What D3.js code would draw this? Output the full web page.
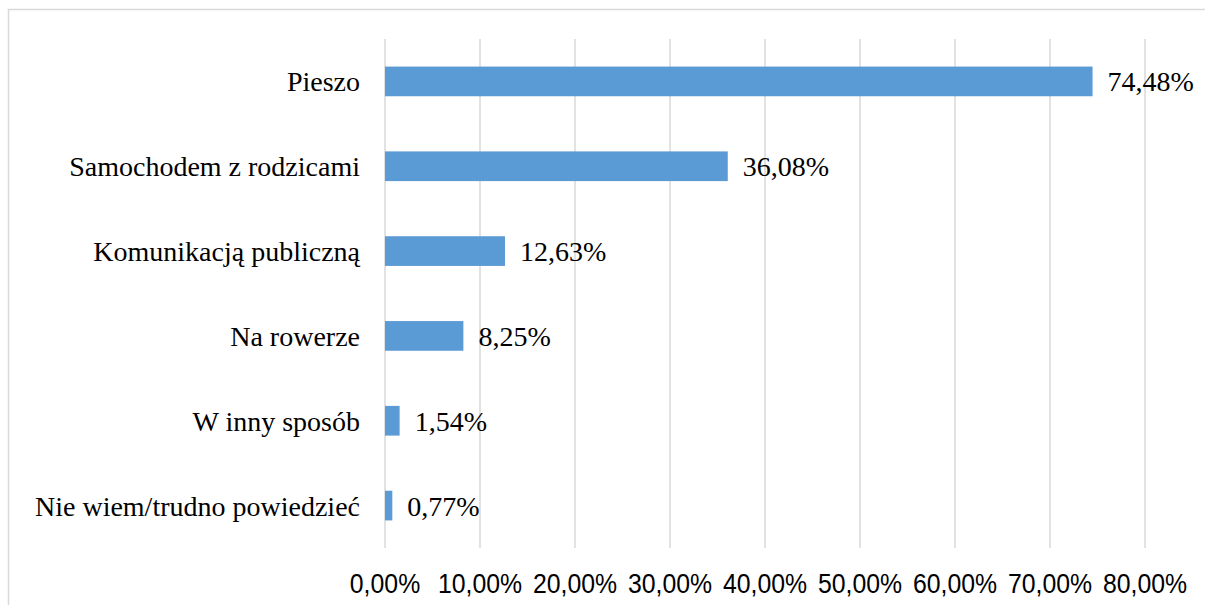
<!DOCTYPE html>
<html><head><meta charset="utf-8">
<script src="https://cdn.jsdelivr.net/npm/d3@7"></script>
<style>
html,body{margin:0;padding:0;background:#fff;overflow:hidden;}
svg{display:block;}
text{fill:#000;}
.serif{font-family:"Liberation Serif","Times New Roman",serif;}
.sans{font-family:"Liberation Sans",Arial,sans-serif;}
</style></head>
<body><svg id="c" width="1205" height="605"></svg>
<script>
const categories = ["Pieszo","Samochodem z rodzicami","Komunikacją publiczną","Na rowerze","W inny sposób","Nie wiem/trudno powiedzieć"];
const values = [74.48,36.08,12.63,8.25,1.54,0.77];
const tickValues = [0,10,20,30,40,50,60,70,80];

const svg = d3.select("#c");
const pLeft = 385, pRight = 1145, pTop = 39, pBottom = 548;
const x = d3.scaleLinear().domain([0,80]).range([pLeft,pRight]);
const y = d3.scaleBand().domain(categories).range([pTop,pBottom]).paddingInner(0.65).paddingOuter(0.325);

// chart border (top and left visible)
svg.append("path").attr("d","M8.5,605 L8.5,9.5 L1205,9.5")
  .attr("fill","none").attr("stroke","#d9d9d9").attr("stroke-width",1.5);

const fmt = v => v.toFixed(2).replace(".",",")+"%";

// gridlines
svg.append("g").selectAll("line").data(tickValues).join("line")
  .attr("x1",d=>x(d)).attr("x2",d=>x(d)).attr("y1",pTop).attr("y2",pBottom)
  .attr("stroke","#d9d9d9").attr("stroke-width",1.5);

// tick labels (narrow sans)
svg.append("g").selectAll("text").data(tickValues).join("text")
  .attr("class","sans")
  .attr("transform",d=>`translate(${x(d)},593) scale(0.92,1)`)
  .attr("text-anchor","middle")
  .attr("font-size",27).text(d=>fmt(d));

// bars
svg.append("g").selectAll("rect").data(values).join("rect")
  .attr("x",x(0)).attr("y",(d,i)=>y(categories[i]))
  .attr("width",d=>x(d)-x(0)).attr("height",y.bandwidth())
  .attr("fill","#5b9bd5");

// value labels
svg.append("g").selectAll("text").data(values).join("text")
  .attr("class","serif")
  .attr("x",d=>x(d)+15).attr("y",(d,i)=>y(categories[i])+y.bandwidth()/2+10)
  .attr("font-size",28).text(d=>fmt(d));

// category labels
svg.append("g").selectAll("text").data(categories).join("text")
  .attr("class","serif")
  .attr("x",360).attr("y",d=>y(d)+y.bandwidth()/2+10)
  .attr("text-anchor","end").attr("font-size",28).text(d=>d);
</script></body></html>
